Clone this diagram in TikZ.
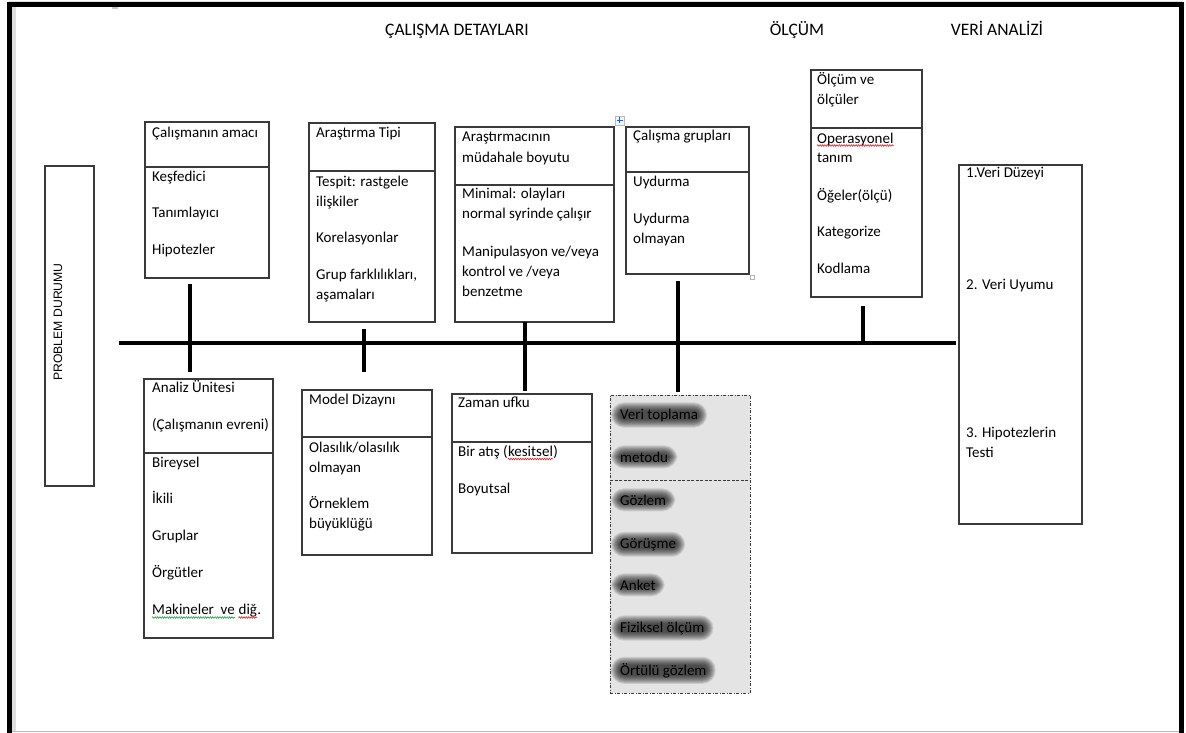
\documentclass[tikz,border=0pt]{standalone}
\usepackage{fontspec}
\setmainfont{Carlito}
\newfontfamily\arialfont{Liberation Sans}
\usetikzlibrary{decorations.pathmorphing}
\definecolor{boxline}{HTML}{3A3A3A}
\definecolor{panelgrey}{HTML}{E4E4E4}
\definecolor{spellred}{HTML}{E02020}
\definecolor{spellgreen}{HTML}{20A040}
% text with a soft dark halo: a hidden copy sizes the halo, stacked translucent
% rounded rectangles build the blur, then the text goes on top
\newcommand{\haloitem}[3]{%
  \node[txt, text opacity=0] (#1) at (#2) {#3};
  \foreach \gl [evaluate=\gl as \off using \gl-2, evaluate=\gl as \noff using 2-\gl,
                evaluate=\gl as \rc using 5+\gl] in {0,...,8} {
    \fill[black, fill opacity=0.11, rounded corners=\rc pt]
      ([xshift=\noff pt-3pt, yshift=\noff pt]#1.south west) rectangle
      ([xshift=\off pt+3pt, yshift=\off pt]#1.north east);
  }
  \node[txt] at (#2) {#3};
}
\begin{document}
\begin{tikzpicture}[x=1pt,y=-1pt,
  box/.style={draw=boxline, line width=1.1pt, anchor=north west, inner sep=0pt, outer sep=0pt},
  divider/.style={draw=boxline, line width=1.1pt},
  txt/.style={anchor=base west, inner sep=0pt, font=\fontsize{15}{18}\selectfont},
  head/.style={anchor=base, inner sep=0pt, font=\fontsize{17.5}{20}\selectfont},
  spine/.style={line width=4pt, black},
  tick/.style={line width=4pt, black},
  wavyred/.style={draw=spellred, line width=0.6pt, decorate, decoration={snake, amplitude=0.8pt, segment length=2.4pt}},
  wavygreen/.style={draw=spellgreen, line width=0.6pt, decorate, decoration={snake, amplitude=0.8pt, segment length=2.4pt}}
]
\useasboundingbox (0,0) rectangle (1186,733);
\fill[white] (0,0) rectangle (1186,733);

% page frame
\fill[black, rounded corners=2pt] (7,2) rectangle (1184,7);
\fill[black] (7,2) rectangle (12,733);
\fill[black] (1179,2) rectangle (1184,733);
\fill[gray!25] (12,7) rectangle (16,731);
\draw[gray!55, line width=1pt] (12,731.5) -- (1179,731.5);
\fill[gray!45] (112,7) rectangle (118,9);

% section headings
\node[head] (h1) at (457,36) {ÇALIŞMA DETAYLARI};
\node[head] (h2) at (797,36) {ÖLÇÜM};
\node[head] (h3) at (997,36) {VERİ ANALİZİ};

% problem box
\node[box, minimum width=49pt, minimum height=320pt] (P) at (45,166) {};
\node[rotate=90, inner sep=0pt, font=\arialfont\fontsize{12.2}{14}\selectfont] at (58,322) {PROBLEM DURUMU};

% upper boxes
\node[box, minimum width=124pt, minimum height=156pt] (A) at (145,122) {};
\draw[divider] (A.west |- 0,167) -- (A.east |- 0,167);
\node[txt] at (152,138) {Çalışmanın amacı};
\node[txt] at (152,181) {Keşfedici};
\node[txt] at (152,217) {Tanımlayıcı};
\node[txt] at (152,254) {Hipotezler};

\node[box, minimum width=126pt, minimum height=199pt] (B) at (309,123) {};
\draw[divider] (B.west |- 0,171) -- (B.east |- 0,171);
\node[txt] at (316,138) {Araştırma Tipi};
\node[txt] at (316,186) {Tespit: rastgele};
\node[txt] at (316,206) {ilişkiler};
\node[txt] at (316,242) {Korelasyonlar};
\node[txt] at (316,279) {Grup farklılıkları,};
\node[txt] at (316,299) {aşamaları};

\node[box, minimum width=159pt, minimum height=195pt] (C) at (455,127) {};
\draw[divider] (C.west |- 0,185) -- (C.east |- 0,185);
\node[txt] at (462,142) {Araştırmacının};
\node[txt] at (462,162) {müdahale boyutu};
\node[txt] at (462,198) {Minimal: olayları};
\node[txt] at (462,218) {normal syrinde çalışır};
\node[txt] at (462,256) {Manipulasyon ve/veya};
\node[txt] at (462,276) {kontrol ve /veya};
\node[txt] at (462,296) {benzetme};
% table move handle
\node[draw=gray!55, fill=blue!4, line width=0.5pt, minimum size=9pt, inner sep=0pt] (mv) at (619.5,120.5) {};
\draw[blue!60!cyan, line width=0.7pt] ([xshift=-3pt]mv.center) -- ([xshift=3pt]mv.center);
\draw[blue!60!cyan, line width=0.7pt] ([yshift=-3pt]mv.center) -- ([yshift=3pt]mv.center);

\node[box, minimum width=123pt, minimum height=147pt] (D) at (626,127) {};
\draw[divider] (D.west |- 0,172) -- (D.east |- 0,172);
\node[txt] at (633,141) {Çalışma grupları};
\node[txt] at (633,186) {Uydurma};
\node[txt] at (633,223) {Uydurma};
\node[txt] at (633,243) {olmayan};
\node[draw=gray!60, fill=white, line width=0.5pt, minimum size=4pt, inner sep=0pt] at (752,277.5) {};

\node[box, minimum width=111pt, minimum height=227pt] (E) at (811,70) {};
\draw[divider] (E.west |- 0,128) -- (E.east |- 0,128);
\node[txt] at (817,85) {Ölçüm ve};
\node[txt] at (817,105) {ölçüler};
\node[txt] (op) at (817,143) {Operasyonel};
\draw[wavyred] ([yshift=-2.5pt]op.base west) -- ([yshift=-2.5pt]op.base east);
\node[txt] at (817,163) {tanım};
\node[txt] at (817,200) {Öğeler(ölçü)};
\node[txt] at (817,236) {Kategorize};
\node[txt] at (817,273) {Kodlama};

\node[box, minimum width=123pt, minimum height=359pt] (F) at (959,165) {};
\node[txt] at (966,178) {1.Veri Düzeyi};
\node[txt] at (966,289) {2. Veri Uyumu};
\node[txt] at (966,437) {3. Hipotezlerin};
\node[txt] at (966,457) {Testi};

% lower boxes
\node[box, minimum width=129pt, minimum height=259pt] (G) at (144,379) {};
\draw[divider] (G.west |- 0,453) -- (G.east |- 0,453);
\node[txt] at (152,392) {Analiz Ünitesi};
\node[txt] at (152,429) {(Çalışmanın evreni)};
\node[txt] at (152,467) {Bireysel};
\node[txt] at (152,503) {İkili};
\node[txt] at (152,540) {Gruplar};
\node[txt] at (152,577) {Örgütler};
\node[txt] (m1) at (152,614) {Makineler\ \ ve};
\node[txt] (m2) at ([xshift=3.4pt]m1.base east) {diğ};
\node[txt] at (m2.base east) {.};
\draw[wavygreen] ([yshift=-3.5pt]m1.base west) -- ([yshift=-3.5pt]m1.base east);
\draw[wavyred] ([yshift=-3.5pt]m2.base west) -- ([yshift=-3.5pt]m2.base east);

\node[box, minimum width=130pt, minimum height=165pt] (H) at (302,390) {};
\draw[divider] (H.west |- 0,437) -- (H.east |- 0,437);
\node[txt] at (309,404) {Model Dizaynı};
\node[txt] at (309,452) {Olasılık/olasılık};
\node[txt] at (309,472) {olmayan};
\node[txt] at (309,508) {Örneklem};
\node[txt] at (309,528) {büyüklüğü};

\node[box, minimum width=140pt, minimum height=159pt] (I) at (452,394) {};
\draw[divider] (I.west |- 0,442) -- (I.east |- 0,442);
\node[txt] at (458,407) {Zaman ufku};
\node[txt] (k1) at (458,456) {Bir atış (};
\node[txt] (k2) at (k1.base east) {kesitsel};
\node[txt] at (k2.base east) {)};
\draw[wavyred] ([yshift=-3pt]k2.base west) -- ([yshift=-3pt]k2.base east);
\node[txt] at (458,493) {Boyutsal};

% data collection panel
\node[box, fill=panelgrey, dash pattern=on 3pt off 1.5pt on 1pt off 1.5pt, line width=0.9pt,
      minimum width=140pt, minimum height=298pt] (J) at (610,395) {};
\draw[divider, line width=0.9pt, dash pattern=on 3pt off 1.5pt] (J.west |- 0,480) -- (J.east |- 0,480);
\haloitem{j1}{620,419}{Veri toplama}
\haloitem{j2}{620,462}{metodu}
\haloitem{j3}{620,505}{Gözlem}
\haloitem{j4}{620,548}{Görüşme}
\haloitem{j5}{620,590}{Anket}
\haloitem{j6}{620,632}{Fiziksel ölçüm}
\haloitem{j7}{620,675}{Örtülü gözlem}

% spine and ticks
\coordinate (sL) at (119,343);
\draw[spine, shorten >=3pt] (sL) -- (F.west |- sL);
\draw[tick, shorten <=6pt, shorten >=7pt] (A.south -| 190,0) -- (G.north -| 190,0);
\draw[tick, shorten <=7pt, shorten >=18pt] (B.south -| 364,0) -- (H.north -| 364,0);
\draw[tick, shorten >=3pt] (C.south -| 525,0) -- (I.north -| 525,0);
\draw[tick, shorten <=7pt, shorten >=3pt] (D.south -| 678,0) -- (J.north -| 678,0);
\draw[tick, shorten <=9pt, shorten >=2pt] (E.south -| 863,0) -- (sL -| 863,0);
\end{tikzpicture}
\end{document}
